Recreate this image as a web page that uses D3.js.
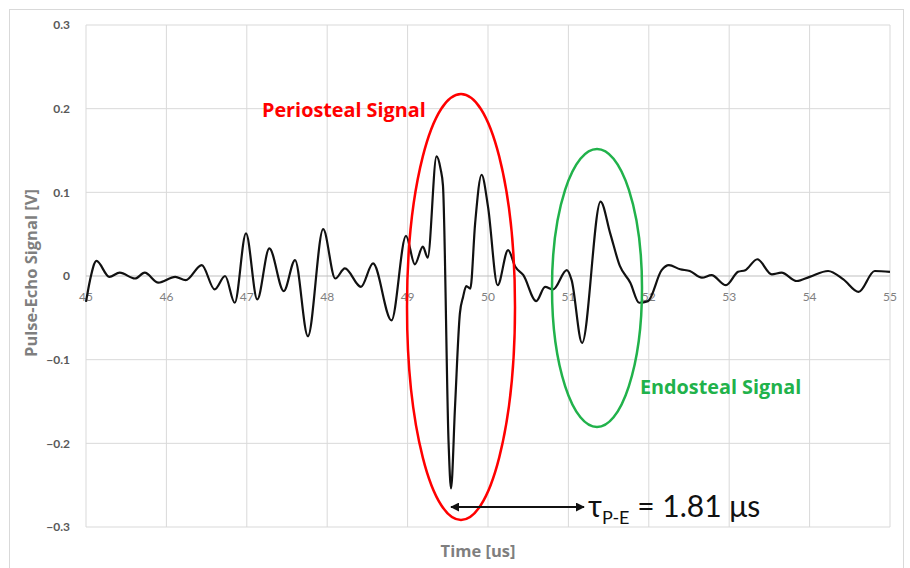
<!DOCTYPE html>
<html>
<head>
    <style>
        body {
            margin: 0;
            background: #fff;
            font-family: Lato, "Open Sans", sans-serif;
        }
        .grid line { stroke: #d9d9d9; stroke-width: 1; }
        .y-tick { font-size: 12px; font-weight: 700; fill: #595959; }
        .x-tick { font-size: 12px; fill: #7f7f7f; }
        .axis-title { font-family: "Open Sans", sans-serif; font-size: 16.5px; font-weight: 700; fill: #7f7f7f; }
    </style>
</head>
<body>
    <div id="chart"></div>
    <script src="https://cdnjs.cloudflare.com/ajax/libs/d3/7.8.5/d3.min.js"></script>
    <script>
        // waveform
        const time = [45.00, 45.05, 45.13, 45.29, 45.42, 45.61, 45.73, 45.90, 46.11, 46.24, 46.44, 46.60, 46.73, 46.85,
            46.99, 47.13, 47.28, 47.46, 47.60, 47.76, 47.95, 48.10, 48.22, 48.42, 48.57, 48.80, 48.98, 49.09, 49.19,
            49.25, 49.36, 49.41, 49.44, 49.51, 49.54, 49.59, 49.65, 49.69, 49.73, 49.78, 49.84, 49.92, 50.00, 50.12,
            50.25, 50.34, 50.44, 50.60, 50.71, 50.81, 50.98, 51.04, 51.17, 51.40, 51.52, 51.64, 51.77, 51.88, 51.99,
            52.16, 52.25, 52.39, 52.51, 52.66, 52.78, 52.96, 53.11, 53.20, 53.35, 53.53, 53.65, 53.84, 54.00, 54.23,
            54.42, 54.61, 54.81, 55.00];
        const signal = [-0.031, -0.005, 0.018, -0.001, 0.004, -0.003, 0.004, -0.008, -0.001, -0.005, 0.013, -0.016, 0.000, -0.032,
            0.051, -0.028, 0.033, -0.018, 0.019, -0.072, 0.056, -0.003, 0.009, -0.013, 0.015, -0.053, 0.048, 0.014, 0.035,
            0.022, 0.143, 0.128, 0.108, -0.200, -0.254, -0.156, -0.045, -0.025, -0.012, -0.015, 0.063, 0.121, 0.083, -0.011,
            0.031, 0.011, 0.001, -0.030, -0.013, -0.016, 0.007, -0.005, -0.080, 0.089, 0.051, 0.012, -0.008, -0.032, -0.030,
            0.007, 0.013, 0.008, 0.006, -0.002, 0.001, -0.011, 0.005, 0.007, 0.020, 0.002, 0.004, -0.006, -0.001, 0.006,
            -0.004, -0.019, 0.006, 0.005];

        const xTicks = [45, 46, 47, 48, 49, 50, 51, 52, 53, 54, 55];
        const yTicks = [-0.3, -0.2, -0.1, 0, 0.1, 0.2, 0.3];

        const W = 910, H = 568;
        const svg = d3.select("#chart").append("svg")
            .attr("width", W)
            .attr("height", H);

        // chart frame
        svg.append("rect")
            .attr("x", 9.5).attr("y", 9.5)
            .attr("width", 894).attr("height", 570)
            .attr("fill", "#fff")
            .attr("stroke", "#d9d9d9");

        const x = d3.scaleLinear().domain([45, 55]).range([86, 890]);
        const y = d3.scaleLinear().domain([-0.3, 0.3]).range([527, 25]);

        const grid = svg.append("g").attr("class", "grid");
        grid.selectAll(".gx").data(xTicks).enter().append("line")
            .attr("x1", d => x(d)).attr("x2", d => x(d))
            .attr("y1", y(0.3)).attr("y2", y(-0.3));
        grid.selectAll(".gy").data(yTicks).enter().append("line")
            .attr("x1", x(45)).attr("x2", x(55))
            .attr("y1", d => y(d)).attr("y2", d => y(d))
            .style("stroke", d => d === 0 ? "#bfbfbf" : null);

        // y tick labels
        svg.selectAll(".y-tick").data(yTicks).enter().append("text")
            .attr("class", "y-tick")
            .attr("x", 70)
            .attr("y", d => y(d))
            .attr("dy", "0.35em")
            .attr("text-anchor", "end")
            .text(d => d3.format("")(Math.round(d * 10) / 10));

        // x tick labels sit just under the zero line
        svg.selectAll(".x-tick").data(xTicks).enter().append("text")
            .attr("class", "x-tick")
            .attr("x", d => x(d))
            .attr("y", y(0) + 25)
            .attr("text-anchor", "middle")
            .text(d => d);

        // axis titles
        svg.append("text")
            .attr("class", "axis-title")
            .attr("transform", `translate(37,${y(0) - 3}) rotate(-90)`)
            .attr("text-anchor", "middle")
            .text("Pulse-Echo Signal [V]");

        svg.append("text")
            .attr("class", "axis-title")
            .attr("x", 478)
            .attr("y", 557)
            .attr("text-anchor", "middle")
            .text("Time [us]");

        // waveform
        const pts = time.map((t, i) => [t, signal[i]]);
        const line = d3.line()
            .x(d => x(d[0]))
            .y(d => y(d[1]))
            .curve(d3.curveMonotoneX);

        svg.append("path")
            .datum(pts)
            .attr("d", line)
            .attr("fill", "none")
            .attr("stroke", "#111")
            .attr("stroke-width", 2.2);

        // annotations
        svg.append("ellipse")
            .attr("cx", 461).attr("cy", 307)
            .attr("rx", 54).attr("ry", 213)
            .attr("fill", "none")
            .attr("stroke", "#ff0000")
            .attr("stroke-width", 2.5);

        svg.append("ellipse")
            .attr("cx", 597).attr("cy", 288)
            .attr("rx", 45).attr("ry", 139)
            .attr("fill", "none")
            .attr("stroke", "#21b24b")
            .attr("stroke-width", 2.5);

        svg.append("text")
            .attr("x", 262).attr("y", 117)
            .attr("font-family", "'Open Sans', sans-serif")
            .attr("font-size", 19.8).attr("font-weight", 700)
            .attr("fill", "#ff0000")
            .text("Periosteal Signal");

        svg.append("text")
            .attr("x", 640).attr("y", 394)
            .attr("font-family", "'Open Sans', sans-serif")
            .attr("font-size", 19.8).attr("font-weight", 700)
            .attr("fill", "#21b24b")
            .text("Endosteal Signal");

        const defs = svg.append("defs");
        defs.append("marker")
            .attr("id", "head")
            .attr("viewBox", "0 0 10 10")
            .attr("refX", 9).attr("refY", 5)
            .attr("markerWidth", 4.5).attr("markerHeight", 4.5)
            .attr("orient", "auto-start-reverse")
            .append("path")
            .attr("d", "M0,0L10,5L0,10z")
            .attr("fill", "#111");

        svg.append("line")
            .attr("x1", 451).attr("x2", 584)
            .attr("y1", 507).attr("y2", 507)
            .attr("stroke", "#111")
            .attr("stroke-width", 2)
            .attr("marker-start", "url(#head)")
            .attr("marker-end", "url(#head)");

        const tau = svg.append("text")
            .attr("x", 588).attr("y", 517)
            .attr("font-size", 30)
            .attr("fill", "#111");
        tau.append("tspan").text("τ");
        tau.append("tspan").attr("font-size", 18).attr("dy", 7).text("P-E");
        tau.append("tspan").attr("dy", -7).text(" = 1.81 μs");
    </script>
</body>
</html>
